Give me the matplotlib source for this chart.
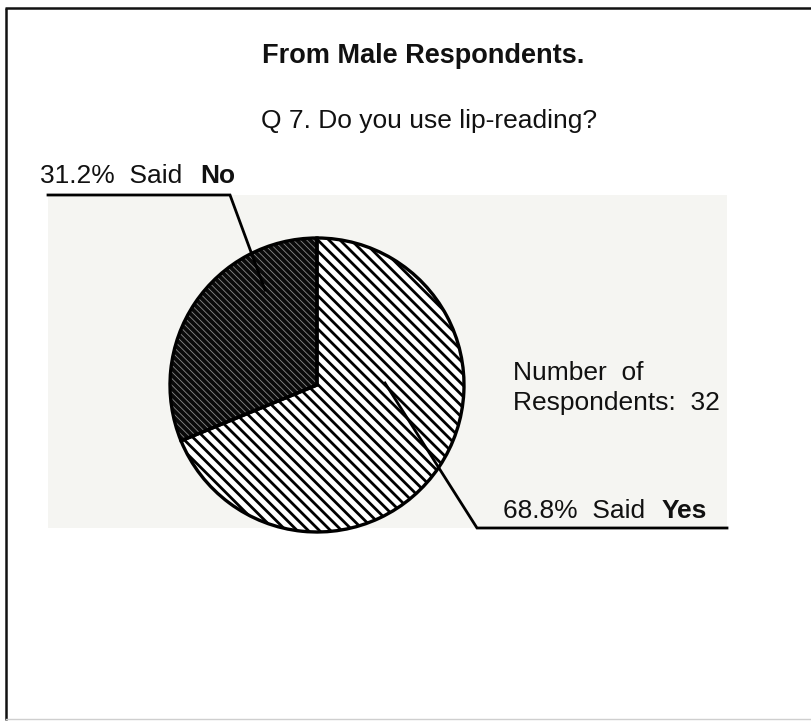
import matplotlib
matplotlib.use("Agg")
import matplotlib.pyplot as plt
from matplotlib.patches import Rectangle

# ---- data ----
categories = ["No", "Yes"]
percentages = [31.2, 68.8]
respondents = 32
title = "From Male Respondents."
question = "Q 7. Do you use lip-reading?"

W, H = 812, 724
plt.rcParams['font.family'] = ['Liberation Sans', 'DejaVu Sans']
plt.rcParams['hatch.linewidth'] = 2.0

fig = plt.figure(figsize=(W / 100, H / 100), dpi=100)
fig.patch.set_facecolor('white')
ax = fig.add_axes([0, 0, 1, 1])


def Y(y):
    return H - y


# light panel
ax.add_patch(Rectangle((48, Y(528)), 727 - 48, 528 - 195, facecolor='#f5f5f2',
                       edgecolor='none', zorder=0))

# frame
ax.plot([5, W], [Y(8), Y(8)], color='#111111', lw=1.8, zorder=1, solid_capstyle='butt')
ax.plot([6, 6], [Y(8), Y(720)], color='#111111', lw=1.8, zorder=1, solid_capstyle='butt')
ax.plot([6, W], [Y(719), Y(719)], color='#cfcfcf', lw=1.0, zorder=1)

center = (317, Y(385))
radius = 147

face = ['#0a0a0a', 'white']
hcol = ['#8a8a8a', 'black']
hatches = ['\\\\\\\\\\', '\\\\\\']
hlw = [0.6, 2.0]

# filled / hatched wedges
wedges, _ = ax.pie(percentages, startangle=90, counterclock=True,
                   center=center, radius=radius,
                   wedgeprops=dict(linewidth=0))
for i, w in enumerate(wedges):
    w.set_facecolor(face[i])
    w.set_edgecolor(hcol[i])
    if hasattr(w, 'set_hatchcolor'):
        w.set_hatchcolor(hcol[i])
    w.set_linewidth(0)
    w.set_hatch(hatches[i])
    if hasattr(w, 'set_hatch_linewidth'):
        w.set_hatch_linewidth(hlw[i])
    w.set_zorder(2)

# outlines
wedges2, _ = ax.pie(percentages, startangle=90, counterclock=True,
                    center=center, radius=radius,
                    wedgeprops=dict(fill=False, edgecolor='black', linewidth=2.4))
for w in wedges2:
    w.set_zorder(3)

# leader lines
ax.plot([48, 230, 265], [Y(195), Y(195), Y(290)], color='black', lw=2.0, zorder=4,
        solid_joinstyle='miter')
ax.plot([727, 477, 385], [Y(528), Y(528), Y(383)], color='black', lw=2.0, zorder=4,
        solid_joinstyle='miter')

# texts
ax.text(423, Y(63), title, ha='center', va='baseline', fontsize=19.5,
        fontweight='bold', color='#111111')
ax.text(429, Y(128), question, ha='center', va='baseline', fontsize=19, color='#111111')

ax.text(40, Y(183), f"{percentages[0]:.1f}%  Said  ", ha='left', va='baseline',
        fontsize=19, color='#111111')
ax.text(200, Y(183), categories[0], ha='left', va='baseline', fontsize=19,
        fontweight='bold', color='#111111')

ax.text(503, Y(518), f"{percentages[1]:.1f}%  Said  ", ha='left', va='baseline',
        fontsize=19, color='#111111')
ax.text(662, Y(518), categories[1], ha='left', va='baseline', fontsize=19,
        fontweight='bold', color='#111111')

ax.text(513, Y(380), "Number  of", ha='left', va='baseline', fontsize=19, color='#111111')
ax.text(513, Y(410), f"Respondents:  {respondents}", ha='left', va='baseline',
        fontsize=19, color='#111111')

ax.set_xlim(0, W)
ax.set_ylim(0, H)
ax.set_aspect('auto')
ax.axis('off')

fig.savefig('out.png', dpi=100, facecolor='white')
